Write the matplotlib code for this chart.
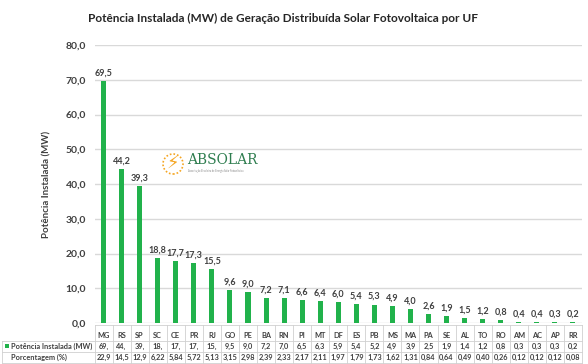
import matplotlib
matplotlib.use("Agg")
import matplotlib.pyplot as plt
from matplotlib.transforms import blended_transform_factory
from matplotlib.patches import Circle, Rectangle
from matplotlib.lines import Line2D

plt.rcParams['font.family'] = ['Lato', 'DejaVu Sans']

categories = ["MG", "RS", "SP", "SC", "CE", "PR", "RJ", "GO", "PE", "BA", "RN", "PI", "MT",
              "DF", "ES", "PB", "MS", "MA", "PA", "SE", "AL", "TO", "RO", "AM", "AC", "AP", "RR"]
potencia = [69.5, 44.2, 39.3, 18.8, 17.7, 17.3, 15.5, 9.6, 9.0, 7.2, 7.1, 6.6, 6.4,
            6.0, 5.4, 5.3, 4.9, 4.0, 2.6, 1.9, 1.5, 1.2, 0.8, 0.4, 0.4, 0.3, 0.2]
table_potencia = ["69,", "44,", "39,", "18,", "17,", "17,", "15,", "9,5", "9,0", "7,2", "7,0",
                  "6,5", "6,3", "5,9", "5,4", "5,2", "4,9", "3,9", "2,5", "1,9", "1,4", "1,2",
                  "0,8", "0,3", "0,3", "0,3", "0,2"]
table_pct = ["22,9", "14,5", "12,9", "6,22", "5,84", "5,72", "5,13", "3,15", "2,98", "2,39",
             "2,33", "2,17", "2,11", "1,97", "1,79", "1,73", "1,62", "1,31", "0,84", "0,64",
             "0,49", "0,40", "0,26", "0,12", "0,12", "0,12", "0,08"]
yticks = [0, 10, 20, 30, 40, 50, 60, 70, 80]

W, H = 588, 364
fig = plt.figure(figsize=(W / 100, H / 100), dpi=100)
ax = fig.add_axes([94.5 / W, 1 - 323 / H, (582 - 94.5) / W, (323 - 45) / H])

green = "#21b24b"
txt = "#404040"
x = list(range(len(categories)))
ax.bar(x, potencia, width=0.28, color=green, zorder=3)
for xi, v in zip(x, potencia):
    ax.text(xi, v + 1.0, f"{v:.1f}".replace(".", ","), ha="center", va="bottom",
            fontsize=6.5, fontweight="bold", color=txt, zorder=4)

ax.set_xlim(-0.5, len(categories) - 0.5)
ax.set_ylim(0, 80)
ax.set_yticks(yticks)
ax.set_yticklabels([f"{t:.1f}".replace(".", ",") for t in yticks], fontsize=7.5,
                   fontweight="bold", color=txt)
ax.yaxis.grid(True, color="#d9d9d9", lw=1.0, zorder=0)
ax.tick_params(axis="y", length=0, pad=6)
ax.tick_params(axis="x", length=0, labelbottom=False)
for s in ax.spines.values():
    s.set_visible(False)

ax.set_ylabel("Potência Instalada (MW)", fontsize=7, fontweight="bold", color=txt, labelpad=10)

fig.text(283 / W, 1 - 18 / H, "Potência Instalada (MW) de Geração Distribuída Solar Fotovoltaica por UF",
         ha="center", va="center", fontsize=8.5, fontweight="bold", color="#262626")

# data table
tr = blended_transform_factory(ax.transData, fig.transFigure)
rows_y = [1 - 335 / H, 1 - 346 / H, 1 - 357 / H]
border_y = [1 - 325 / H, 1 - 340.5 / H, 1 - 351.5 / H, 1 - 362.5 / H]
grid_c = "#d0d0d0"
for xi, c, p, q in zip(x, categories, table_potencia, table_pct):
    ax.text(xi, rows_y[0], c, transform=tr, ha="center", va="center", fontsize=5.3,
            fontweight="bold", color=txt, clip_on=False)
    ax.text(xi, rows_y[1], p, transform=tr, ha="center", va="center", fontsize=5.3,
            fontweight="bold", color=txt, clip_on=False)
    ax.text(xi, rows_y[2], q, transform=tr, ha="center", va="center", fontsize=5.3,
            fontweight="bold", color=txt, clip_on=False)
for k in range(len(categories) + 1):
    ax.add_line(Line2D([k - 0.5, k - 0.5], [border_y[0], border_y[3]], transform=tr,
                       color=grid_c, lw=0.6, clip_on=False))
for j, by in enumerate(border_y):
    if j == 0:
        ax.add_line(Line2D([-0.5, len(categories) - 0.5], [by, by], transform=tr,
                           color=grid_c, lw=0.6, clip_on=False))
    else:
        fig.add_artist(Line2D([2 / W, 582 / W], [by, by], color=grid_c, lw=0.6))
fig.add_artist(Line2D([2 / W, 2 / W], [border_y[1], border_y[3]], color=grid_c, lw=0.6))

fig.add_artist(Rectangle((5 / W, rows_y[1] - 2 / H), 4 / W, 4 / H, color=green, lw=0))
fig.text(11 / W, rows_y[1], "Potência Instalada (MW)", ha="left", va="center",
         fontsize=5.3, fontweight="bold", color=txt)
fig.text(11 / W, rows_y[2], "Porcentagem (%)", ha="left", va="center",
         fontsize=5.3, fontweight="bold", color=txt)

# ABSOLAR logo
cx, cy = 173 / W, 1 - 164 / H
fig.add_artist(Circle((cx * W, cy * H), 10, transform=None, fill=False,
                      ec="#f5a623", lw=1.2, ls=(0, (1, 1.2))))
fig.text(cx, cy, "⚡", ha="center", va="center", fontsize=13, color="#f5a623",
         family="DejaVu Sans")
fig.text(187 / W, 1 - 160 / H, "ABSOLAR", ha="left", va="center", fontsize=10,
         color="#2e7d4f", family="DejaVu Serif")
fig.text(188 / W, 1 - 171 / H, "Associação Brasileira de Energia Solar Fotovoltaica",
         ha="left", va="center", fontsize=1.8, color="#888888")

fig.savefig("out.png", dpi=100)
